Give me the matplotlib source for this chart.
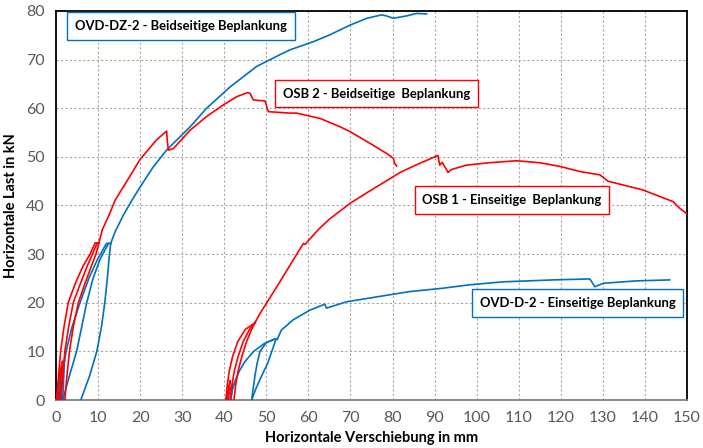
import matplotlib
matplotlib.use("Agg")
import matplotlib.pyplot as plt

# ---------------- data ----------------
# OSB 2 - Beidseitige Beplankung (red): cycles + envelope
osb2_small_x = [0.0, 0.7, 1.5, 1.1, 0.8]
osb2_small_y = [0.0, 4.5, 8.0, 4.0, 0.0]
osb2_c1_x = [0.3, 0.6, 1.1, 1.9, 2.9, 4.6, 6.4, 8.1, 9.3, 10.2]
osb2_c1_y = [0.0, 5.0, 10.0, 15.0, 20.0, 24.0, 27.5, 30.0, 32.3, 32.3]
osb2_c2_x = [9.8, 8.9, 7.4, 5.6, 4.1, 3.0, 2.1, 1.6, 1.2]
osb2_c2_y = [32.3, 30.5, 27.5, 23.5, 20.0, 15.0, 10.0, 5.0, 0.0]
osb2_c3_x = [2.1, 2.6, 3.2, 4.1, 5.3, 6.9, 8.4, 9.5, 10.2]
osb2_c3_y = [0.0, 5.0, 10.0, 15.0, 20.0, 24.0, 27.5, 30.0, 32.3]
osb2_env_x = [10.2, 11.0, 12.8, 14.0, 17.2, 20.0, 23.9, 26.3, 26.5, 26.7, 27.9,
              31.9, 35.8, 39.8, 43.0, 45.5, 46.1, 46.9, 49.7, 50.2, 50.5, 55.6,
              57.2, 62.8, 67.5, 69.9, 74.6, 78.6, 80.2, 80.5, 81.0]
osb2_env_y = [32.3, 35.0, 38.4, 41.0, 45.5, 49.5, 53.5, 55.3, 53.0, 51.4, 51.7,
              55.5, 58.3, 60.7, 62.4, 63.2, 63.1, 61.7, 61.5, 60.0, 59.3, 59.0,
              59.0, 57.9, 56.2, 55.2, 52.8, 50.7, 49.7, 48.7, 48.1]

# OVD-DZ-2 - Beidseitige Beplankung (blue)
dz2_small_x = [0.5, 1.0, 2.0, 1.8, 1.6]
dz2_small_y = [0.0, 4.5, 8.2, 4.0, 0.0]
dz2_c1_x = [1.0, 1.5, 2.4, 3.8, 5.7, 7.8, 9.9, 12.0, 13.0]
dz2_c1_y = [0.0, 5.0, 10.0, 15.0, 20.0, 25.0, 29.0, 32.2, 32.2]
dz2_c2_x = [1.6, 3.2, 4.9, 6.1, 7.3, 8.8, 10.5, 12.5]
dz2_c2_y = [0.0, 5.0, 10.0, 15.0, 20.0, 25.0, 29.0, 32.2]
dz2_c3_x = [13.0, 12.6, 12.2, 11.6, 10.8, 9.7, 8.0, 5.9]
dz2_c3_y = [32.2, 29.0, 25.0, 20.0, 15.0, 10.0, 5.0, 0.0]
dz2_env_x = [13.0, 14.0, 16.0, 18.0, 20.0, 23.0, 26.3, 31.9, 35.8, 41.4, 47.7,
             53.2, 55.6, 61.2, 65.1, 69.9, 73.9, 77.4, 78.5, 80.2, 83.4, 85.7, 88.1]
dz2_env_y = [32.2, 34.5, 38.0, 41.0, 43.8, 47.8, 51.4, 56.2, 60.0, 64.4, 68.6,
             71.0, 72.0, 73.7, 75.1, 77.1, 78.5, 79.2, 79.0, 78.5, 79.0, 79.5, 79.4]

# OSB 1 - Einseitige Beplankung (red)
osb1_small_x = [40.4, 40.9, 41.4, 41.2, 41.0]
osb1_small_y = [0.0, 2.2, 4.0, 2.0, 0.0]
osb1_c1_x = [40.4, 40.7, 41.2, 42.0, 43.2, 45.0, 47.3]
osb1_c1_y = [0.0, 3.0, 6.0, 9.0, 12.0, 14.5, 15.9]
osb1_c2_x = [47.3, 46.0, 44.5, 43.3, 42.4, 41.8, 41.4]
osb1_c2_y = [15.9, 14.5, 12.0, 9.0, 6.0, 3.0, 0.0]
osb1_c3_x = [42.3, 42.7, 43.3, 44.2, 45.3, 46.5, 47.3]
osb1_c3_y = [0.0, 3.0, 6.0, 9.0, 12.0, 14.5, 15.9]
osb1_env_x = [47.3, 48.5, 52.5, 56.4, 58.8, 59.2, 62.3, 65.0, 70.0, 74.6, 81.8,
              86.0, 90.8, 91.2, 91.8, 93.2, 94.0, 97.6, 103.0, 109.5, 115.0,
              120.0, 124.5, 129.3, 131.2, 139.5, 146.7, 148.3, 150.0]
osb1_env_y = [15.9, 17.8, 23.3, 28.8, 32.2, 32.0, 35.0, 37.2, 40.5, 43.0, 46.8,
              48.5, 50.3, 48.3, 48.9, 46.8, 47.4, 48.3, 48.8, 49.2, 48.8,
              48.0, 47.0, 46.3, 45.0, 43.2, 40.8, 39.4, 38.3]

# OVD-D-2 - Einseitige Beplankung (blue)
d2_small_x = [40.6, 41.2, 42.1, 41.8, 41.5]
d2_small_y = [0.0, 1.8, 3.3, 1.6, 0.0]
d2_c1_x = [41.5, 41.9, 42.6, 43.6, 45.0, 47.0, 49.5, 51.8, 52.6]
d2_c1_y = [0.0, 2.0, 4.0, 6.0, 8.0, 10.0, 11.6, 12.5, 12.5]
d2_c2_x = [46.5, 46.9, 47.3, 47.8, 48.5, 50.0, 52.0]
d2_c2_y = [0.0, 2.5, 5.0, 7.5, 10.0, 11.8, 12.5]
d2_c3_x = [52.3, 51.3, 50.3, 48.9, 47.6, 46.5]
d2_c3_y = [12.5, 10.0, 7.5, 5.0, 2.5, 0.0]
d2_env_x = [52.6, 53.6, 56.4, 60.4, 63.9, 64.3, 69.1, 76.2, 84.1, 92.1, 98.4,
            106.3, 118.2, 126.9, 128.1, 130.1, 138.0, 145.9]
d2_env_y = [12.5, 14.4, 16.5, 18.5, 19.7, 18.9, 20.2, 21.2, 22.3, 23.0, 23.7,
            24.3, 24.7, 24.9, 23.3, 24.0, 24.5, 24.7]

labels = ["OVD-DZ-2 - Beidseitige Beplankung", "OSB 2 - Beidseitige  Beplankung",
          "OSB 1 - Einseitige  Beplankung", "OVD-D-2 - Einseitige Beplankung"]
x_ticks = list(range(0, 151, 10))
y_ticks = list(range(0, 81, 10))

# ---------------- drawing ----------------
RED = "#ff0000"
BLUE = "#0070c0"
plt.rcParams['font.family'] = ['Lato', 'DejaVu Sans']

fig = plt.figure(figsize=(7.03, 4.48), dpi=100)
ax = fig.add_axes([56/703, 1-400/448, (687-56)/703, (400-11)/448])

red_sets = [(osb2_small_x, osb2_small_y), (osb2_c1_x, osb2_c1_y), (osb2_c2_x, osb2_c2_y),
            (osb2_c3_x, osb2_c3_y), (osb2_env_x, osb2_env_y),
            (osb1_small_x, osb1_small_y), (osb1_c1_x, osb1_c1_y), (osb1_c2_x, osb1_c2_y),
            (osb1_c3_x, osb1_c3_y), (osb1_env_x, osb1_env_y)]
blue_sets = [(dz2_small_x, dz2_small_y), (dz2_c1_x, dz2_c1_y), (dz2_c2_x, dz2_c2_y),
             (dz2_c3_x, dz2_c3_y), (dz2_env_x, dz2_env_y),
             (d2_small_x, d2_small_y), (d2_c1_x, d2_c1_y), (d2_c2_x, d2_c2_y),
             (d2_c3_x, d2_c3_y), (d2_env_x, d2_env_y)]
for xs, ys in blue_sets:
    ax.plot(xs, ys, color=BLUE, lw=1.2, zorder=3)
for xs, ys in red_sets:
    ax.plot(xs, ys, color=RED, lw=1.2, zorder=3)

ax.set_xlim(0, 150)
ax.set_ylim(0, 80)
ax.set_xticks(x_ticks)
ax.set_yticks(y_ticks)
ax.grid(True, color="#a6a6a6", linestyle=(0, (2, 2)), lw=0.8, zorder=0)
ax.tick_params(length=0, labelsize=11.5, labelcolor="#595959", pad=8)
for s in ["left", "right", "top"]:
    ax.spines[s].set_color("#000000")
    ax.spines[s].set_linewidth(1.3)
ax.spines["bottom"].set_color("#808080")
ax.spines["bottom"].set_linewidth(1.3)

ax.set_xlabel("Horizontale Verschiebung in mm", fontsize=10.5, fontweight="bold", labelpad=4)
ax.set_ylabel("Horizontale Last in kN", fontsize=10.5, fontweight="bold", labelpad=6)

box_pos = [(29.7, 76.9), (76.2, 63.0), (108.4, 41.1), (124.0, 19.95)]
box_col = [BLUE, RED, RED, BLUE]
for (bx, by), txt, c in zip(box_pos, labels, box_col):
    ax.text(bx, by, txt, ha="center", va="center", fontsize=9.4, fontweight="bold",
            color="black", zorder=5,
            bbox=dict(boxstyle="square,pad=0.6", facecolor="white", edgecolor=c, lw=1.0))

fig.savefig("out.png", dpi=100)
